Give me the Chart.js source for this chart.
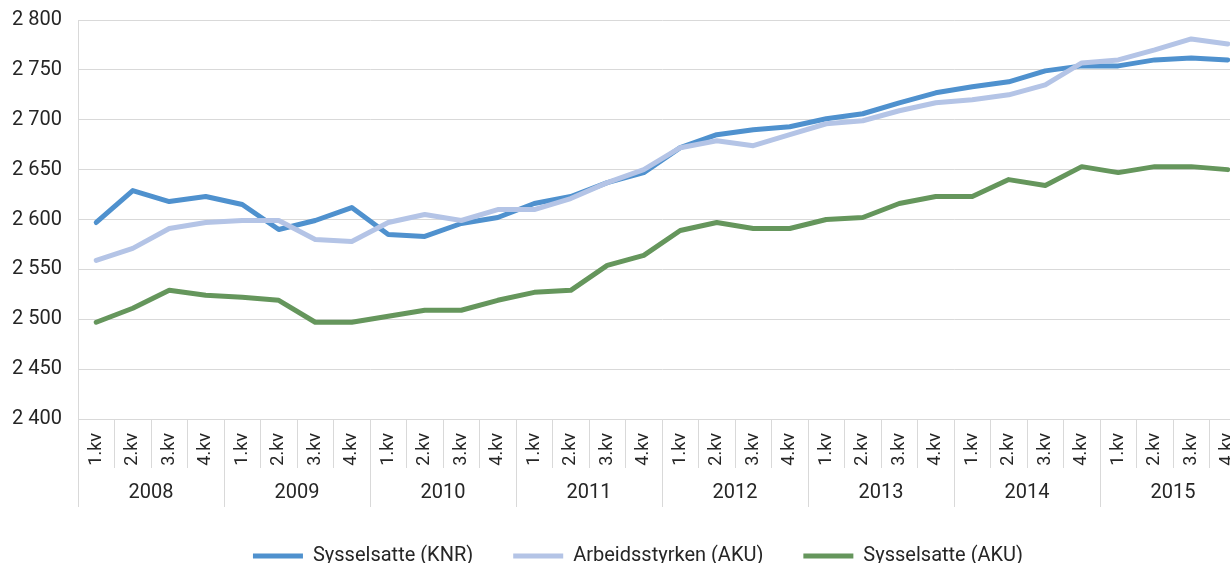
<!DOCTYPE html>
<html>
<head>
<meta charset="utf-8">
<script src="https://cdn.jsdelivr.net/npm/chart.js@4/dist/chart.umd.min.js"></script>
<style>
  html, body { margin: 0; padding: 0; background: #fff; overflow: hidden; }
  #wrap { position: absolute; left: 0; top: 0; width: 1246px; height: 576px; }
</style>
</head>
<body>
<div id="wrap"><canvas id="chart"></canvas></div>
<script>
const quarters = [
  '1.kv', '2.kv', '3.kv', '4.kv', '1.kv', '2.kv', '3.kv', '4.kv',
  '1.kv', '2.kv', '3.kv', '4.kv', '1.kv', '2.kv', '3.kv', '4.kv',
  '1.kv', '2.kv', '3.kv', '4.kv', '1.kv', '2.kv', '3.kv', '4.kv',
  '1.kv', '2.kv', '3.kv', '4.kv', '1.kv', '2.kv', '3.kv', '4.kv'
];
const years = ['2008', '2009', '2010', '2011', '2012', '2013', '2014', '2015'];

const sysselsatteKnr = [2597, 2629, 2618, 2623, 2615, 2590, 2599, 2612, 2585, 2583, 2596, 2602, 2616, 2623, 2637, 2647,
  2672, 2685, 2690, 2693, 2701, 2706, 2717, 2727, 2733, 2738, 2749, 2754, 2754, 2760, 2762, 2760];
const arbeidsstyrkenAku = [2559, 2571, 2591, 2597, 2599, 2599, 2580, 2578, 2597, 2605, 2599, 2610, 2610, 2621, 2637, 2650,
  2672, 2679, 2674, 2685, 2696, 2699, 2709, 2717, 2720, 2725, 2735, 2757, 2760, 2770, 2781, 2776];
const sysselsatteAku = [2497, 2511, 2529, 2524, 2522, 2519, 2497, 2497, 2503, 2509, 2509, 2519, 2527, 2529, 2554, 2564,
  2589, 2597, 2591, 2591, 2600, 2602, 2616, 2623, 2623, 2640, 2634, 2653, 2647, 2653, 2653, 2650];

const gridColor = '#d9d9d9';
const textColor = '#262626';
Chart.defaults.font.family = 'Roboto';

function thousands(v) {
  return String(v).replace(/\B(?=(\d{3})+(?!\d))/g, ' ');
}

function line(label, data, color, order) {
  return {
    label: label,
    data: data,
    borderColor: color,
    backgroundColor: color,
    borderWidth: 5,
    borderCapStyle: 'round',
    borderJoinStyle: 'round',
    pointRadius: 0,
    tension: 0,
    order: order
  };
}

// legend in the original sits a bit right of the canvas centre
const legendShift = {
  id: 'legendShift',
  afterLayout(chart) {
    chart.legend.left += 15;
    chart.legend.right += 15;
  }
};

new Chart(document.getElementById('chart'), {
  type: 'line',
  data: {
    labels: quarters,
    datasets: [
      line('Sysselsatte (KNR)', sysselsatteKnr, '#4f91ce', 3),
      line('Arbeidsstyrken (AKU)', arbeidsstyrkenAku, '#b4c4e6', 2),
      line('Sysselsatte (AKU)', sysselsatteAku, '#65965c', 1)
    ]
  },
  plugins: [legendShift],
  options: {
    responsive: true,
    maintainAspectRatio: false,
    animation: false,
    layout: { padding: { left: 0, right: 0, top: 20, bottom: 0 } },
    scales: {
      y: {
        min: 2400,
        max: 2800,
        afterFit: (s) => { s.width = 78; },
        ticks: {
          stepSize: 50,
          padding: 0,
          color: textColor,
          font: { size: 20 },
          callback: (v) => thousands(v)
        },
        grid: { color: gridColor, tickLength: 16, tickColor: 'rgba(0,0,0,0)' },
        border: { color: gridColor }
      },
      x: {
        weight: 0,
        offset: true,
        afterFit: (s) => { s.height = 49; },
        ticks: {
          minRotation: 90,
          maxRotation: 90,
          autoSkip: false,
          padding: -35,
          color: textColor,
          font: { size: 18 }
        },
        grid: { color: gridColor, offset: true, drawOnChartArea: false, tickLength: 49 },
        border: { color: gridColor }
      },
      year: {
        type: 'category',
        labels: years,
        position: 'bottom',
        weight: 1,
        offset: true,
        afterFit: (s) => { s.height = 38; },
        ticks: {
          maxRotation: 0,
          autoSkip: false,
          padding: -26,
          color: textColor,
          font: { size: 20 }
        },
        grid: { color: gridColor, offset: true, drawOnChartArea: false, tickLength: 39 },
        border: { display: false }
      }
    },
    plugins: {
      tooltip: { enabled: false },
      legend: {
        position: 'bottom',
        labels: {
          usePointStyle: true,
          pointStyle: 'line',
          pointStyleWidth: 50,
          padding: 40,
          color: textColor,
          font: { size: 20 },
          sort: (a, b) => a.datasetIndex - b.datasetIndex
        }
      }
    }
  }
});
</script>
</body>
</html>
